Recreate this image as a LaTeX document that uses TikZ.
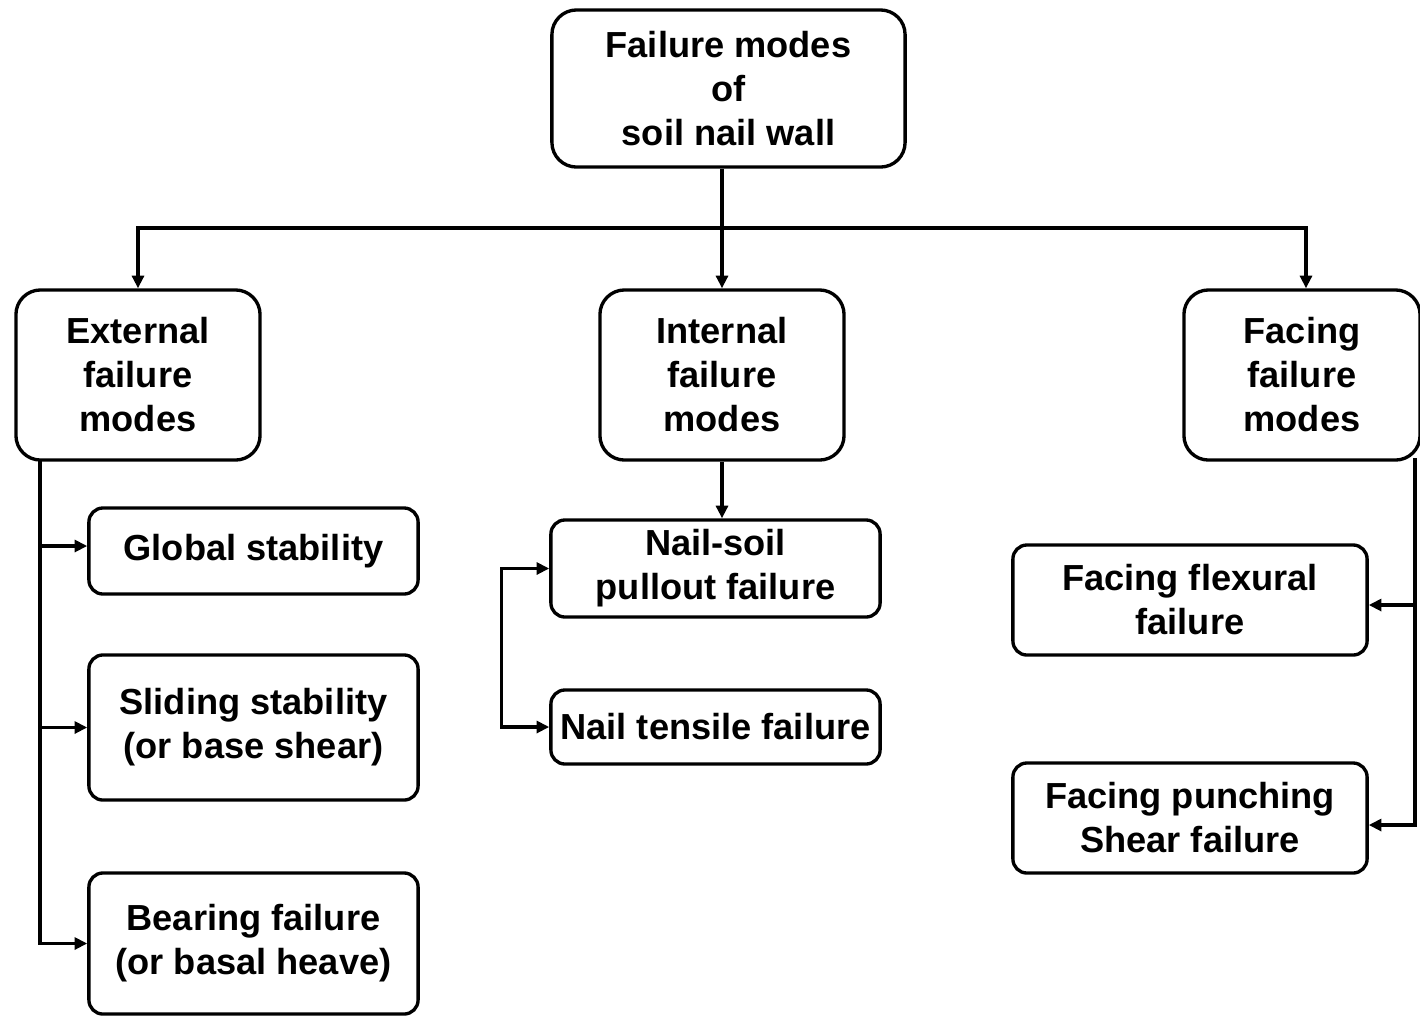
\documentclass[tikz,border=0pt]{standalone}
\usepackage{fontspec}
\setmainfont{Liberation Sans}
\usetikzlibrary{arrows.meta}
\begin{document}
\begin{tikzpicture}[x=0.01cm,y=-0.01cm,
  box/.style={draw=black,line width=0.95pt,align=center,inner sep=0pt,
    font=\bfseries\fontsize{10.3}{12.5}\selectfont},
  bigbox/.style={box,rounded corners=7pt},
  smallbox/.style={box,rounded corners=4pt},
  arr/.style={line width=0.95pt,-{Triangle[length=3.6pt,width=3.4pt]}},
  arrboth/.style={line width=0.95pt,{Triangle[length=3.6pt,width=3.4pt]}-{Triangle[length=3.6pt,width=3.4pt]}}]
\useasboundingbox (0,0) rectangle (1420,1017);
% main boxes
\node[bigbox,minimum width=3.53cm,minimum height=1.57cm] (top) at (728.5,88.5) {Failure modes\\of\\soil nail wall};
\node[bigbox,minimum width=2.44cm,minimum height=1.70cm] (ext) at (138,375) {External\\failure\\modes};
\node[bigbox,minimum width=2.44cm,minimum height=1.70cm] (int) at (722,375) {Internal\\failure\\modes};
\node[bigbox,minimum width=2.36cm,minimum height=1.70cm] (fac) at (1302,375) {Facing\\failure\\modes};
% external children
\node[smallbox,minimum width=3.29cm,minimum height=0.86cm] (glob) at (253.5,551) {Global stability};
\node[smallbox,minimum width=3.29cm,minimum height=1.45cm] (slid) at (253.5,727.5) {Sliding stability\\(or base shear)};
\node[smallbox,minimum width=3.29cm,minimum height=1.41cm] (bear) at (253.5,943.5) {Bearing failure\\(or basal heave)};
% internal children
\node[smallbox,minimum width=3.29cm,minimum height=0.97cm] (nail) at (715.5,568.5) {Nail-soil\\pullout failure};
\node[smallbox,minimum width=3.29cm,minimum height=0.74cm] (tens) at (715.5,727) {Nail tensile failure};
% facing children
\node[smallbox,minimum width=3.54cm,minimum height=1.10cm] (flex) at (1190,600) {Facing flexural\\failure};
\node[smallbox,minimum width=3.54cm,minimum height=1.10cm] (punch) at (1190,818) {Facing punching\\Shear failure};
% top-level connectors
\coordinate (bus) at (722,228);
\draw[line width=0.95pt] (top.south -| bus) -- (bus);
\draw[arr] (bus) -- (int.north);
\draw[arr] (bus) -| (ext.north);
\draw[arr] (bus) -| ([xshift=0.04cm]fac.north);
% external trunk
\coordinate (et) at (40,460);
\draw[arr] (et) |- ([yshift=0.05cm]glob.west);
\draw[arr] (et) |- (slid.west);
\draw[arr] (et) |- (bear.west);
% internal
\draw[arr] (int.south) -- (int.south |- nail.north);
\draw[arrboth] (nail.west) -- ++(-48,0) |- (tens.west);
% facing trunk
\coordinate (ft) at (1415,458);
\draw[arr] (ft) |- ([yshift=-0.05cm]flex.east);
\draw[arr] (ft) |- ([yshift=-0.07cm]punch.east);
\end{tikzpicture}
\end{document}
